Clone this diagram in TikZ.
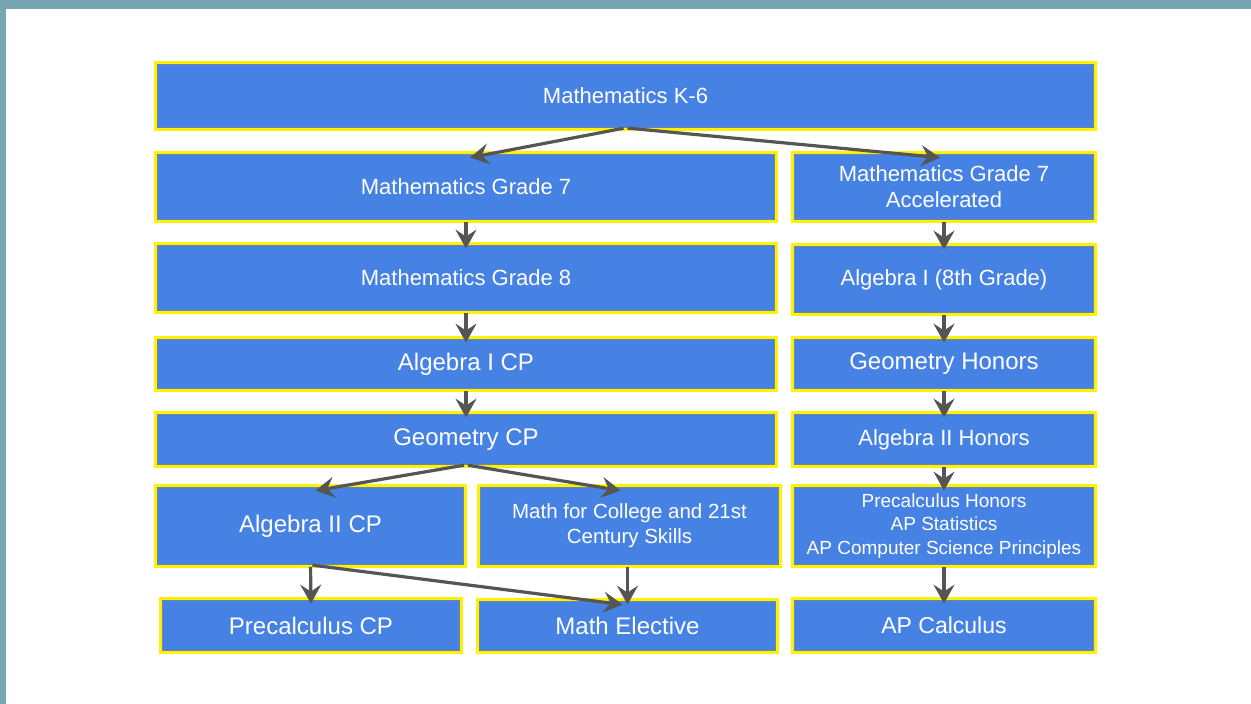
\documentclass[tikz,border=0pt]{standalone}
\usepackage{fontspec}
\setmainfont{Liberation Sans}
\usetikzlibrary{arrows.meta}
\definecolor{strip}{HTML}{77A6B0}
\definecolor{boxblue}{HTML}{4682E3}
\definecolor{boxedge}{HTML}{6A86AE}
\definecolor{arrowgray}{HTML}{555555}
\tikzset{
  box/.style={fill=boxblue, draw=boxedge, line width=0.8pt, inner sep=0pt,
    preaction={draw=yellow, line width=7.5pt},
    text=white, align=center},
  big/.style={font=\fontsize{24}{28}\selectfont},
  mid/.style={font=\fontsize{22}{26}\selectfont},
  conn/.style={draw=arrowgray, line width=3.2pt,
    -{Stealth[length=19pt, width=21pt, inset=7pt]}, shorten <=2pt}
}
\begin{document}
\begin{tikzpicture}[x=1pt, y=-1pt]
\useasboundingbox (0,0) rectangle (1251,704);
\fill[white] (0,0) rectangle (1251,704);
\fill[strip] (0,0) rectangle (1251,8.7);
\fill[strip] (0,0) rectangle (6,704);

\node[box, mid, minimum width=936pt, minimum height=63pt] (k6) at (625.5,96) {Mathematics K-6};

\node[box, mid, minimum width=617pt, minimum height=65pt] (g7) at (466,187) {Mathematics Grade 7};
\node[box, mid, minimum width=299pt, minimum height=65pt] (g7a) at (944,187) {Mathematics Grade 7\\Accelerated};

\node[box, mid, minimum width=617pt, minimum height=65pt] (g8) at (466,278) {Mathematics Grade 8};
\node[box, mid, minimum width=299pt, minimum height=66pt] (a1e) at (944,279.5) {Algebra I (8th Grade)};

\node[box, big, minimum width=617pt, minimum height=49pt] (a1cp) at (466,364) {Algebra I CP};
\node[box, big, minimum width=299pt, minimum height=49pt] (gh) at (944,364) {Geometry Honors};

\node[box, big, minimum width=617pt, minimum height=50pt] (gcp) at (466,439.5) {Geometry CP};
\node[box, mid, minimum width=299pt, minimum height=50pt] (a2h) at (944,439.5) {Algebra II Honors};

\node[box, big, minimum width=306pt, minimum height=77pt] (a2cp) at (310.5,526) {Algebra II CP};
\node[box, font=\fontsize{20.5}{25}\selectfont, minimum width=298pt, minimum height=77pt] (mc) at (629.5,526) {Math for College and 21st\\Century Skills};
\node[box, font=\fontsize{19}{23.5}\selectfont, minimum width=299pt, minimum height=77pt] (ph) at (944,526) {Precalculus Honors\\AP Statistics\\AP Computer Science Principles};

\node[box, big, minimum width=297pt, minimum height=50pt] (pcp) at (311,625.5) {Precalculus CP};
\node[box, big, minimum width=296pt, minimum height=49pt] (me) at (627.5,626) {Math Elective};
\node[box, font=\fontsize{23}{27}\selectfont, minimum width=299pt, minimum height=50pt] (apc) at (944,625.5) {AP Calculus};

\draw[conn] (k6.south) -- ([xshift=4pt, yshift=-3.5pt]g7.north);
\draw[conn] (k6.south) -- ([xshift=-4pt, yshift=-3.5pt]g7a.north);
\draw[conn] (g7.south) -- ([yshift=-3.5pt]g8.north);
\draw[conn] (g7a.south) -- ([yshift=-3.5pt]a1e.north);
\draw[conn] (g8.south) -- ([yshift=-3.5pt]a1cp.north);
\draw[conn] (a1e.south) -- ([yshift=-3.5pt]gh.north);
\draw[conn] (a1cp.south) -- ([yshift=-3.5pt]gcp.north);
\draw[conn] (gh.south) -- ([yshift=-3.5pt]a2h.north);
\draw[conn] (gcp.south) -- ([xshift=5pt, yshift=-3.5pt]a2cp.north);
\draw[conn] (gcp.south) -- ([xshift=-9pt, yshift=-3.5pt]mc.north);
\draw[conn] (a2h.south) -- ([yshift=-3.5pt]ph.north);
\draw[conn] (a2cp.south) -- ([yshift=-3.5pt]pcp.north);
\draw[conn] (a2cp.south) -- ([xshift=-5pt, yshift=-3.5pt]me.north);
\draw[conn] (me.north |- mc.south) -- ([yshift=-3.5pt]me.north);
\draw[conn] (ph.south) -- ([yshift=-3.5pt]apc.north);
\end{tikzpicture}
\end{document}
